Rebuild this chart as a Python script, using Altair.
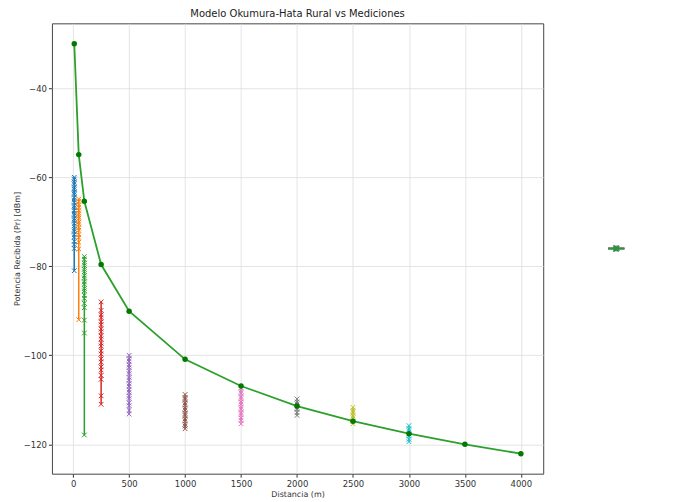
import altair as alt
import pandas as pd

labels = ["Mediciones de 10.00m.xlsx", "Mediciones de 50.00m.xlsx", "Mediciones de 100.00m.xlsx",
          "Mediciones de 250.00m.xlsx", "Mediciones de 500.00m.xlsx", "Mediciones de 1000.00m.xlsx",
          "Mediciones de 1500.00m.xlsx", "Mediciones de 2000.00m.xlsx", "Mediciones de 2500.00m.xlsx",
          "Mediciones de 3000.00m.xlsx", "Modelo Okumura-Hata"]
colors = ["#1f77b4", "#ff7f0e", "#2ca02c", "#d62728", "#9467bd", "#8c564b",
          "#e377c2", "#7f7f7f", "#bcbd22", "#17becf", "#1a8a1a"]

meas_dist = [10, 50, 100, 250, 500, 1000, 1500, 2000, 2500, 3000]
meas_vals = [
    [-60.0, -60.4, -61.1, -61.5, -62.3, -62.7, -63.4, -63.8, -64.6, -65.1, -65.6, -66.4, -66.8,
     -67.5, -68.1, -68.5, -69.3, -69.7, -70.4, -70.9, -71.7, -72.1, -72.9, -73.4, -74.4, -75.1, -76.0, -81.0],
    [-64.9, -65.4, -66.2, -66.7, -67.5, -68.0, -68.8, -69.2, -70.1, -70.5, -71.4, -71.9, -72.9,
     -73.5, -74.6, -76.1, -92.0],
    [-77.8, -78.4, -79.3, -79.8, -80.7, -81.2, -82.1, -82.6, -83.5, -84.0, -85.0, -85.5, -86.5,
     -87.2, -88.3, -89.3, -92.1, -95.0, -117.9],
    [-88.0, -89.9, -90.9, -91.5, -92.5, -93.1, -94.1, -94.7, -95.7, -96.3, -97.3, -97.9, -99.0,
     -99.7, -100.8, -101.5, -102.6, -103.3, -104.5, -105.4, -109.1, -111.0],
    [-100.0, -100.8, -101.3, -102.2, -102.7, -103.6, -104.1, -105.0, -105.5, -106.4, -106.9,
     -107.8, -108.3, -109.2, -109.7, -110.7, -111.3, -112.4, -113.2],
    [-108.8, -109.5, -109.9, -110.7, -111.1, -111.9, -112.3, -113.1, -113.5, -114.3, -114.7,
     -115.5, -115.9, -116.5],
    [-107.4, -108.1, -108.5, -109.3, -109.7, -110.5, -110.9, -111.7, -112.1, -112.9, -113.3,
     -114.1, -114.6, -115.4],
    [-109.8, -110.5, -110.9, -111.7, -112.1, -112.9, -113.5],
    [-111.7, -112.4, -112.8, -113.6, -114.0, -114.8, -115.4],
    [-115.8, -116.5, -116.9, -117.7, -118.1, -118.9, -119.4],
]

model_dist = [10, 50, 100, 250, 500, 1000, 1500, 2000, 2500, 3000, 3500, 4000]
model_vals = [-30.0, -54.9, -65.4, -79.6, -90.1, -100.9, -106.9, -111.4, -114.8, -117.6, -120.0, -122.1]

x_ticks = [0, 500, 1000, 1500, 2000, 2500, 3000, 3500, 4000]
y_ticks = [-120, -100, -80, -60, -40]

rows = []
for lab, d, vals in zip(labels[:-1], meas_dist, meas_vals):
    for i, v in enumerate(vals):
        rows.append({"serie": lab, "dist": d, "pr": v, "idx": i})
meas_df = pd.DataFrame(rows)
model_df = pd.DataFrame({"dist": model_dist, "pr": model_vals, "serie": labels[-1]})

meas_path = "M-1,0L2.6,0M0.2,-0.6L1.4,0.6M0.2,0.6L1.4,-0.6"
model_path = ("M-1,0L2.6,0M1.3,0A0.5,0.5,0,1,1,0.3,0A0.5,0.5,0,1,1,1.3,0"
              "M1.05,0A0.25,0.25,0,1,1,0.55,0A0.25,0.25,0,1,1,1.05,0")
shapes = [meas_path] * 10 + [model_path]
legend_df = pd.DataFrame({"leyenda": labels, "lx": [0.5] * 11, "ly": [0.5] * 11})

xs = alt.Scale(domain=[-189.5, 4199.5], nice=False, zero=False)
ys = alt.Scale(domain=[-126.6, -25.4], nice=False, zero=False)
cs = alt.Scale(domain=labels, range=colors)

X = alt.X("dist:Q", scale=xs, axis=alt.Axis(values=x_ticks, title="Distancia (m)", format="d"))
Y = alt.Y("pr:Q", scale=ys, axis=alt.Axis(values=y_ticks, title="Potencia Recibida (Pr) [dBm]",
                                          labelExpr="replace(datum.label, '-', '−')"))

base_m = alt.Chart(meas_df)
m_lines = base_m.mark_line(strokeWidth=1.5, clip=True).encode(
    x=X, y=Y, color=alt.Color("serie:N", scale=cs, legend=None), order="idx:Q")
m_pts = base_m.mark_point(shape="M-1,-1L1,1M-1,1L1,-1", filled=False, size=22, strokeWidth=1,
                          opacity=1, clip=True).encode(
    x=X, y=Y, color=alt.Color("serie:N", scale=cs, legend=None))

base_h = alt.Chart(model_df)
h_line = base_h.mark_line(color="#2ca02c", strokeWidth=1.8, clip=True).encode(x=X, y=Y)
h_pts = base_h.mark_circle(color="#007a00", size=30, opacity=1, clip=True).encode(x=X, y=Y)

title_kw = dict(font="DejaVu Sans", fontSize=10, fontWeight="normal", color="#222", offset=4)

main = alt.layer(m_lines, m_pts, h_line, h_pts).properties(
    width=492, height=451,
    title=alt.Title("Modelo Okumura-Hata Rural vs Mediciones", **title_kw),
)

leg = alt.Legend(orient="none", legendX=4, legendY=156, title=None, strokeColor="#cccccc",
                 fillColor="white", padding=2, labelFontSize=8.5, labelOffset=13)
legend_unit = alt.Chart(legend_df).mark_point(filled=False, size=81, strokeWidth=1.5).encode(
    x=alt.X("lx:Q", scale=alt.Scale(domain=[0, 1]), axis=None),
    y=alt.Y("ly:Q", scale=alt.Scale(domain=[0, 1]), axis=None),
    stroke=alt.Stroke("leyenda:N", scale=alt.Scale(domain=labels, range=colors), legend=leg),
    shape=alt.Shape("leyenda:N", scale=alt.Scale(domain=labels, range=shapes), legend=leg),
).properties(width=135, height=451, title=alt.Title(" ", **title_kw),
             view=alt.ViewBackground(stroke="transparent"))

chart = alt.hconcat(main, legend_unit, spacing=0).properties(
    padding={"left": 4, "top": 0, "right": 0, "bottom": 2},
).configure_view(stroke="#444", strokeWidth=1).configure_axis(
    labelFont="DejaVu Sans", titleFont="DejaVu Sans", labelFontSize=8.5, titleFontSize=8,
    titleFontWeight="normal", labelColor="#333", titleColor="#333", gridColor="#dddddd",
    gridWidth=0.8, tickColor="#333", tickSize=3.5, domain=False, labelPadding=2,
).configure_axisY(titlePadding=2).configure_axisX(titlePadding=3)

chart.save("out.html", embed_options={"renderer": "svg", "actions": False})
